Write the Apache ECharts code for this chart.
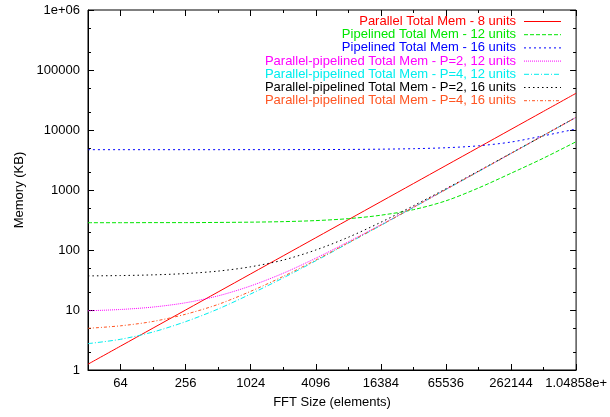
<!DOCTYPE html>
<html>
<head>
<meta charset="utf-8">
<script src="https://cdn.jsdelivr.net/npm/echarts@6/dist/echarts.min.js"></script>
<style>
  html, body { margin: 0; padding: 0; background: #ffffff; }
  #chart { width: 610px; height: 417px; }
</style>
</head>
<body>
<div id="chart"></div>
<script>
// FFT sizes (elements), one point per power of two
const fftSizes = [32, 64, 128, 256, 512, 1024, 2048, 4096, 8192, 16384, 32768, 65536, 131072, 262144, 524288, 1048576];

// Memory in KB for each configuration
const parallel8 = [1.25, 2.5, 5, 10, 20, 40, 80, 160, 320, 640, 1280, 2560, 5120, 10240, 20480, 40960];
const pipelined12 = [285, 285, 286, 286, 288, 291, 297, 309, 333, 380, 470, 660, 1080, 1900, 3400, 6380];
const pipelined16 = [4700, 4700, 4700, 4700, 4700, 4705, 4710, 4720, 4740, 4790, 4880, 5060, 5450, 6300, 8000, 10400];
const pp2x12 = [9.7, 10.2, 11.2, 13.2, 17.2, 25.2, 41, 73, 137, 264, 518, 1026, 2040, 4070, 8140, 16260];
const pp4x12 = [2.75, 3.25, 4.3, 6.4, 10.4, 18.5, 34.3, 66, 130, 257, 511, 1019, 2035, 4066, 8128, 16250];
const pp2x16 = [37, 37.5, 38.5, 40.5, 44.5, 52.5, 68, 100, 163, 290, 545, 1050, 2070, 4100, 8160, 16300];
const pp4x16 = [4.95, 5.45, 6.45, 8.5, 12.4, 20.5, 36.3, 68, 132, 259, 513, 1021, 2037, 4068, 8130, 16250];

// Tick positions
const xMajorTicks = [64, 256, 1024, 4096, 16384, 65536, 262144, 1048576];
const xMinorTicks = [128, 512, 2048, 8192, 32768, 131072, 524288];
const yMajorTicks = [1, 10, 100, 1000, 10000, 100000, 1000000];
const yMinorTicks = [2, 5, 20, 50, 200, 500, 2000, 5000, 20000, 50000, 200000, 500000];

const FONT = "'Liberation Sans', Arial, Helvetica, sans-serif";

const seriesDefs = [
  { name: 'Parallel Total Mem - 8 units', data: parallel8, color: '#ff0000', dash: 'solid' },
  { name: 'Pipelined Total Mem - 12 units', data: pipelined12, color: '#00e600', dash: [4, 2] },
  { name: 'Pipelined Total Mem - 16 units', data: pipelined16, color: '#0000ff', dash: [2, 3] },
  { name: 'Parallel-pipelined Total Mem - P=2, 12 units', data: pp2x12, color: '#ff00ff', dash: [1, 1] },
  { name: 'Parallel-pipelined Total Mem - P=4, 12 units', data: pp4x12, color: '#00eeee', dash: [5, 2, 1, 2] },
  { name: 'Parallel-pipelined Total Mem - P=2, 16 units', data: pp2x16, color: '#000000', dash: [1.5, 3] },
  { name: 'Parallel-pipelined Total Mem - P=4, 16 units', data: pp4x16, color: '#ff5522', dash: [3, 2, 1, 2] }
];

function xLabel(v) {
  return v === 1048576 ? '1.04858e+' : String(v);
}
function yLabel(v) {
  return v === 1000000 ? '1e+06' : String(v);
}

const xRange = { type: 'log', logBase: 2, min: 32, max: 1048576, gridIndex: 0 };
const yRange = { type: 'log', logBase: 10, min: 1, max: 1000000, gridIndex: 0 };
const noLine = { show: false };
const noSplit = { show: false };

function tickAxis(base, position, ticks, len) {
  return Object.assign({}, base, {
    position: position,
    axisLine: noLine,
    splitLine: noSplit,
    axisLabel: { show: false },
    axisTick: { show: true, inside: true, length: len, customValues: ticks, lineStyle: { color: '#000', width: 1 } }
  });
}

const xAxes = [
  Object.assign({}, xRange, {
    position: 'bottom',
    axisLine: { show: true, lineStyle: { color: '#000', width: 1 } },
    axisTick: { show: true, inside: true, length: 6, customValues: xMajorTicks, lineStyle: { color: '#000', width: 1 } },
    axisLabel: { show: true, customValues: xMajorTicks, formatter: xLabel, color: '#000', fontSize: 13, fontFamily: FONT, margin: 7 },
    splitLine: noSplit,
    name: 'FFT Size (elements)',
    nameLocation: 'middle',
    nameGap: 26,
    nameTextStyle: { color: '#000', fontSize: 13, fontFamily: FONT }
  }),
  tickAxis(xRange, 'bottom', xMinorTicks, 3),
  tickAxis(xRange, 'top', xMajorTicks, 6),
  tickAxis(xRange, 'top', xMinorTicks, 3)
];

const yAxes = [
  Object.assign({}, yRange, {
    position: 'left',
    axisLine: { show: true, lineStyle: { color: '#000', width: 1 } },
    axisTick: { show: true, inside: true, length: 6, customValues: yMajorTicks, lineStyle: { color: '#000', width: 1 } },
    axisLabel: { show: true, customValues: yMajorTicks, formatter: yLabel, color: '#000', fontSize: 13, fontFamily: FONT, margin: 8 },
    splitLine: noSplit,
    name: 'Memory (KB)',
    nameLocation: 'middle',
    nameGap: 62,
    nameTextStyle: { color: '#000', fontSize: 13, fontFamily: FONT }
  }),
  tickAxis(yRange, 'left', yMinorTicks, 3),
  tickAxis(yRange, 'right', yMajorTicks, 6),
  tickAxis(yRange, 'right', yMinorTicks, 3)
];

// Key: text right-aligned, sample line to its right
const keyTop = 21.5, keyStep = 13.2;
const keyGraphics = [];
seriesDefs.forEach(function (s, i) {
  const yc = keyTop + i * keyStep;
  keyGraphics.push({
    type: 'text', x: 516, y: yc, z: 100,
    style: { text: s.name, fill: s.color, font: '13px ' + FONT, align: 'right', verticalAlign: 'middle' }
  });
  keyGraphics.push({
    type: 'line', z: 100,
    shape: { x1: 524, y1: yc, x2: 561, y2: yc },
    style: { stroke: s.color, lineWidth: 1, lineDash: s.dash === 'solid' ? null : s.dash }
  });
});

const option = {
  animation: false,
  backgroundColor: '#ffffff',
  grid: { left: 88, right: 33, top: 10, bottom: 47, show: true, borderColor: '#000', borderWidth: 1, backgroundColor: 'transparent' },
  xAxis: xAxes,
  yAxis: yAxes,
  graphic: keyGraphics,
  series: seriesDefs.map(function (s) {
    return {
      name: s.name,
      type: 'line',
      xAxisIndex: 0,
      yAxisIndex: 0,
      showSymbol: false,
      symbol: 'none',
      smooth: 0.3,
      lineStyle: { color: s.color, width: 1, type: s.dash },
      data: fftSizes.map(function (n, i) { return [n, s.data[i]]; })
    };
  })
};

const chart = echarts.init(document.getElementById('chart'), null, { renderer: 'canvas' });
chart.setOption(option);
</script>
</body>
</html>
